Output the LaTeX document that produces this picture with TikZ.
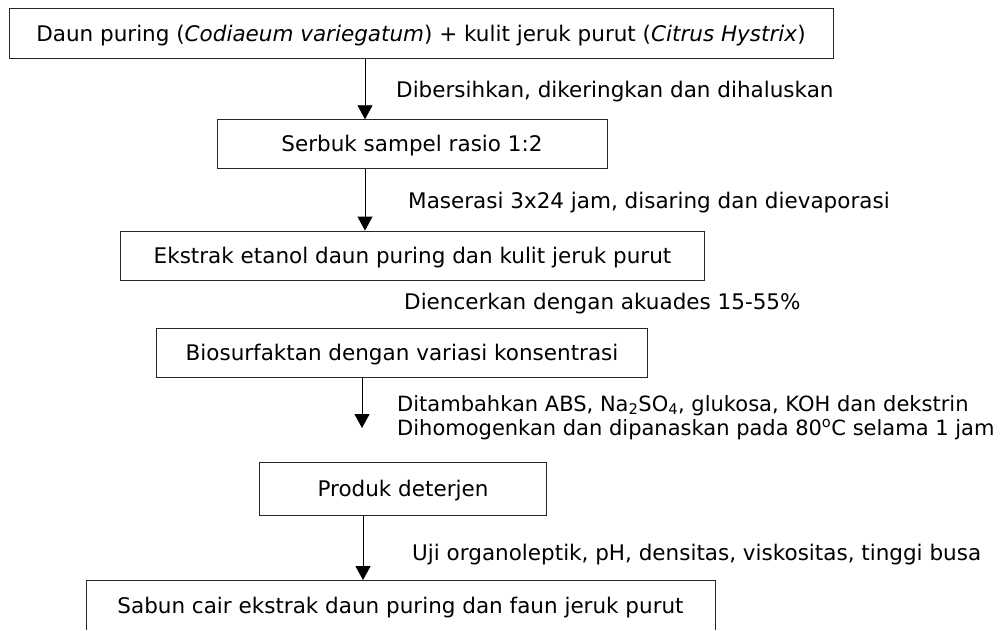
\documentclass[tikz,border=0pt]{standalone}
\usepackage{fontspec}
\setmainfont{DejaVu Sans}
\usetikzlibrary{arrows.meta}
\usetikzlibrary{positioning}

\tikzset{
  stepbox/.style={draw=black!85, line width=0.9pt, inner sep=0pt, text height=15pt, text depth=0pt, font=\fontsize{21.5}{24}\selectfont},
  steplabel/.style={anchor=base west, inner sep=0pt, font=\fontsize{21.5}{24}\selectfont},
  flow/.style={line width=0.9pt, -{Triangle[length=14pt, width=15pt]}}
}

\begin{document}
\begin{tikzpicture}[x=1pt, y=-1pt]
            \useasboundingbox (0,0) rectangle (1006,630);

            \node[stepbox, minimum width=824pt, minimum height=49.5pt] (raw) at (421,33.5) {Daun puring (\textit{Codiaeum variegatum}) + kulit jeruk purut (\textit{Citrus Hystrix})};
            \node[stepbox, minimum width=390pt, minimum height=49pt] (powder) at (412,144.2) {Serbuk sampel rasio 1:2};
            \node[stepbox, minimum width=584pt, minimum height=49pt] (extract) at (412.5,255.5) {Ekstrak etanol daun puring dan kulit jeruk purut};
            \node[stepbox, minimum width=491pt, minimum height=49pt] (biosurf) at (402,352.5) {Biosurfaktan dengan variasi konsentrasi};
            \node[stepbox, minimum width=287pt, minimum height=53pt] (detergent) at (403,488.5) {Produk deterjen};
            \node[stepbox, draw=none, minimum width=628pt, minimum height=51pt] (soap) at (400.5,606) {Sabun cair ekstrak daun puring dan faun jeruk purut};

            \node[steplabel] (clean) at (396,97.5) {Dibersihkan, dikeringkan dan dihaluskan};
            \node[steplabel] (macer) at (408,208) {Maserasi 3x24 jam, disaring dan dievaporasi};
            \node[steplabel] (dilute) at (404,309) {Diencerkan dengan akuades 15-55\%};
            \node[steplabel, font=\fontsize{21}{24}\selectfont] (addit) at (397,411) {Ditambahkan ABS, Na\textsubscript{2}SO\textsubscript{4}, glukosa, KOH dan dekstrin};
            \node[steplabel, font=\fontsize{21}{24}\selectfont] (heat) at (397,435) {Dihomogenkan dan dipanaskan pada 80\textsuperscript{o}C selama 1 jam};
            \node[steplabel] (test) at (412,560) {Uji organoleptik, pH, densitas, viskositas, tinggi busa};

            \coordinate (upper) at (365,0);
            \coordinate (lower) at (362,0);
            \coordinate (free) at (362,428);
            \coordinate (last) at (363,0);
            \coordinate (bottom) at (0,630);

            \draw[flow] (raw.south -| upper) -- (powder.north -| upper);
            \draw[flow] (powder.south -| upper) -- (extract.north -| upper);
            \draw[flow] (biosurf.south -| lower) -- (free);
            \draw[flow] (detergent.south -| last) -- (soap.north -| last);

            % open frame round the last step
            \draw[draw=black!85, line width=0.9pt] (soap.west |- bottom) |- (soap.north east) -- (soap.east |- bottom);
        \end{tikzpicture}
\end{document}
